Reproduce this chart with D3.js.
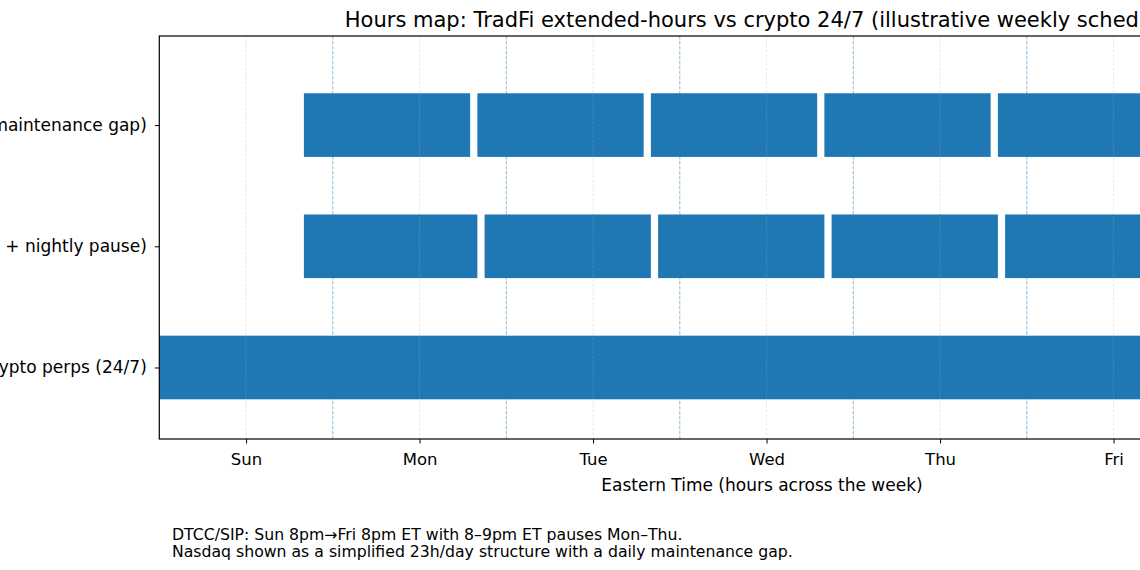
<!DOCTYPE html>
<html>
<head>
<meta charset="utf-8">
<script src="https://cdn.jsdelivr.net/npm/d3@7"></script>
<style>
  body { margin: 0; background: #fff; }
  text { font-family: "DejaVu Sans", sans-serif; fill: #000; }
</style>
</head>
<body>
<script>
const width = 1140;
const height = 570;

// rows, bottom to top
const venues = [
  "Crypto perps (24/7)",
  "DTCC/SIP (Sun\u2013Fri 23h + nightly pause)",
  "Nasdaq (23/5 simplified, daily maintenance gap)"
];

// sessions as [start hour, end hour] from Sun 00:00 ET
const cryptoSessions = [[0, 168]];
const dtccSessions = [[20, 44], [45, 68], [69, 92], [93, 116], [117, 140]];
const nasdaqSessions = [[20, 43], [44, 67], [68, 91], [92, 115], [116, 139]];

const dayLabels = ["Sun", "Mon", "Tue", "Wed", "Thu", "Fri", "Sat"];
const dayTicks = [12, 36, 60, 84, 108, 132, 156];
const dayBoundaries = [24, 48, 72, 96, 120, 144];

const title = "Hours map: TradFi extended-hours vs crypto 24/7 (illustrative weekly schedule)";
const xLabel = "Eastern Time (hours across the week)";
const notes = [
  "DTCC/SIP: Sun 8pm\u2192Fri 8pm ET with 8\u20139pm ET pauses Mon\u2013Thu.",
  "Nasdaq shown as a simplified 23h/day structure with a daily maintenance gap."
];

const plotLeft = 159.3, plotRight = 1373.8, plotTop = 36, plotBottom = 439;
const textCenter = 762;

const svg = d3.select("body").append("svg")
  .attr("width", width)
  .attr("height", height);

const x = d3.scaleLinear().domain([0, 168]).range([plotLeft, plotRight]);
const y = d3.scaleLinear().domain([-0.59, 2.735]).range([plotBottom, plotTop]);
const barH = 0.525;

const rows = [cryptoSessions, dtccSessions, nasdaqSessions];
const bars = [];
rows.forEach((sessions, i) => sessions.forEach(s => bars.push({ row: i, start: s[0], end: s[1] })));

svg.append("defs").append("clipPath").attr("id", "plot")
  .append("rect").attr("x", plotLeft).attr("y", plotTop)
  .attr("width", plotRight - plotLeft).attr("height", plotBottom - plotTop);

const plot = svg.append("g").attr("clip-path", "url(#plot)");

plot.selectAll("rect.bar")
  .data(bars)
  .enter().append("rect")
  .attr("class", "bar")
  .attr("x", d => x(d.start))
  .attr("width", d => x(d.end) - x(d.start))
  .attr("y", d => y(d.row + barH / 2))
  .attr("height", d => y(d.row - barH / 2) - y(d.row + barH / 2))
  .attr("fill", "#1f77b4");

// light grid at the day ticks
plot.selectAll("line.grid")
  .data(dayTicks)
  .enter().append("line")
  .attr("x1", d => x(d)).attr("x2", d => x(d))
  .attr("y1", plotTop).attr("y2", plotBottom)
  .attr("stroke", "#b0b0b0")
  .attr("stroke-opacity", 0.3)
  .attr("stroke-width", 0.9)
  .attr("stroke-dasharray", "3,1.5");

// midnight boundaries
plot.selectAll("line.midnight")
  .data(dayBoundaries)
  .enter().append("line")
  .attr("x1", d => x(d)).attr("x2", d => x(d))
  .attr("y1", plotTop).attr("y2", plotBottom)
  .attr("stroke", "#1f77b4")
  .attr("stroke-opacity", 0.5)
  .attr("stroke-width", 1)
  .attr("stroke-dasharray", "3.5,1.5");

// x axis
const xAxis = svg.append("g")
  .attr("transform", `translate(0,${plotBottom})`)
  .call(d3.axisBottom(x).tickValues(dayTicks).tickFormat((d, i) => dayLabels[i]).tickSize(4.5).tickPadding(10));
xAxis.select(".domain").remove();
xAxis.selectAll("line").attr("stroke", "#000").attr("stroke-width", 1);
xAxis.selectAll("text").style("font-size", "16.5px").style("font-family", "DejaVu Sans");

// y axis
const yAxis = svg.append("g")
  .attr("transform", `translate(${plotLeft},0)`)
  .call(d3.axisLeft(y).tickValues([0, 1, 2]).tickFormat((d, i) => venues[i]).tickSize(4.5).tickPadding(8));
yAxis.select(".domain").remove();
yAxis.selectAll("line").attr("stroke", "#000").attr("stroke-width", 1);
yAxis.selectAll("text").style("font-size", "17px").style("font-family", "DejaVu Sans");

// frame
svg.append("rect")
  .attr("x", plotLeft).attr("y", plotTop)
  .attr("width", plotRight - plotLeft).attr("height", plotBottom - plotTop)
  .attr("fill", "none")
  .attr("stroke", "#000")
  .attr("stroke-width", 1.2);

svg.append("text")
  .attr("x", textCenter).attr("y", 27)
  .attr("text-anchor", "middle")
  .style("font-size", "21px")
  .text(title);

svg.append("text")
  .attr("x", textCenter).attr("y", 491)
  .attr("text-anchor", "middle")
  .style("font-size", "17px")
  .text(xLabel);

svg.selectAll("text.note")
  .data(notes)
  .enter().append("text")
  .attr("class", "note")
  .attr("x", 172)
  .attr("y", (d, i) => 540 + i * 17)
  .style("font-size", "15.7px")
  .text(d => d);
</script>
</body>
</html>
